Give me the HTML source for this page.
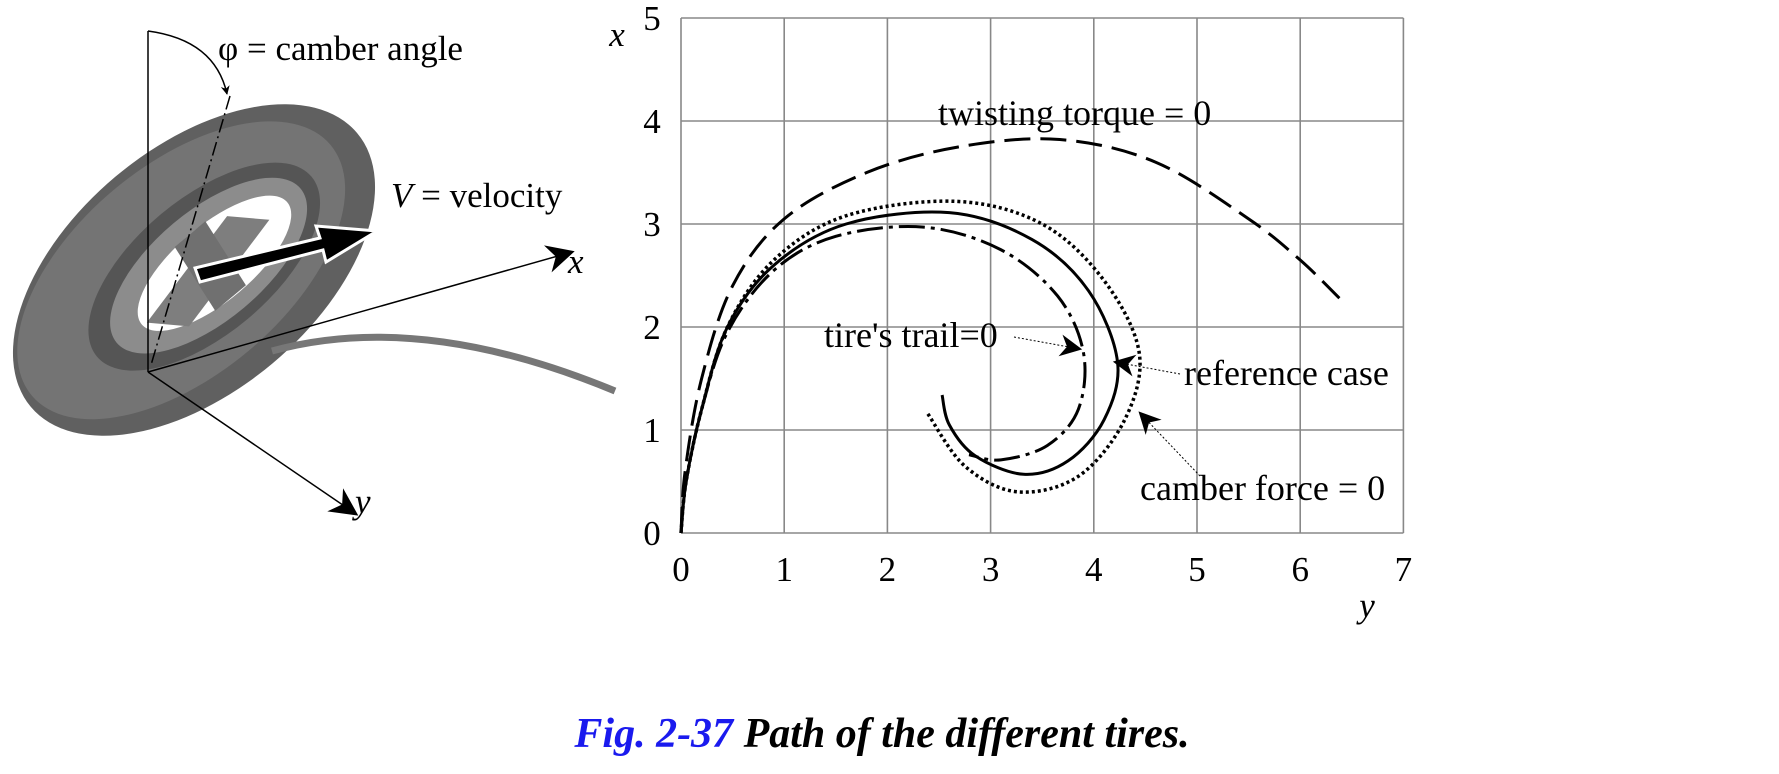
<!DOCTYPE html>
<html><head><meta charset="utf-8"><style>
html,body{margin:0;padding:0;background:#fff;}
svg{display:block;}
text{font-family:"Liberation Serif",serif;}
</style></head><body>
<svg id="s" width="1779" height="774" viewBox="0 0 1779 774" xmlns="http://www.w3.org/2000/svg">
<defs>
<marker id="ah" viewBox="0 0 10 10" refX="9" refY="5" markerWidth="9" markerHeight="9" orient="auto" markerUnits="userSpaceOnUse"><path d="M0,0 L10,5 L0,10 L3,5z" fill="#000"/></marker>
<marker id="ab" viewBox="0 0 10 10" refX="9" refY="5" markerWidth="34" markerHeight="28" orient="auto" markerUnits="userSpaceOnUse"><path d="M0,0 L10,5 L0,10 L3,5z" fill="#000"/></marker>
<marker id="am" viewBox="0 0 10 10" refX="9" refY="5" markerWidth="26" markerHeight="22" orient="auto" markerUnits="userSpaceOnUse"><path d="M0,0 L10,5 L0,10 L3,5z" fill="#000"/></marker>
</defs>
<!-- tire -->
<g transform="translate(194,270) rotate(-40)">
<ellipse cx="0" cy="0" rx="213" ry="122" fill="#606060"/>
<ellipse cx="-10" cy="-8" rx="195" ry="105" fill="#747474"/>
<ellipse cx="10" cy="4" rx="140" ry="68" fill="#555"/>
<ellipse cx="14" cy="6" rx="120" ry="55" fill="#8c8c8c"/>
<ellipse cx="20" cy="8" rx="95" ry="38" fill="#fff"/>
<path d="M-70,10 L60,-20 L90,10 L-40,40z" fill="#7e7e7e"/>
<path d="M0,-30 L40,-30 L30,45 L-10,45z" fill="#707070"/>
</g>
<path d="M272,351 Q420,310 615,391" stroke="#777" stroke-width="7" fill="none"/>
<!-- axes -->
<line x1="148" y1="31" x2="148" y2="372" stroke="#000" stroke-width="1.5"/>
<line x1="148" y1="372" x2="572" y2="252" stroke="#000" stroke-width="1.5" marker-end="url(#ab)"/>
<line x1="148" y1="372" x2="356" y2="514" stroke="#000" stroke-width="1.5" marker-end="url(#ab)"/>
<line x1="230" y1="96" x2="151" y2="365" stroke="#000" stroke-width="1.5" stroke-dasharray="14,4,2,4"/>
<path d="M148,31 Q215,40 227,94" stroke="#000" stroke-width="1.5" fill="none" marker-end="url(#ah)"/>
<path d="M195,268 L320,238 L316,226 L377,231 L326,262 L323,250 L200,282z" fill="#000" stroke="#fff" stroke-width="3"/>
<text x="218" y="60" font-size="35">φ = camber angle</text>
<text x="391" y="207" font-size="35"><tspan font-style="italic">V</tspan> = velocity</text>
<text x="568" y="273" font-size="35" font-style="italic">x</text>
<text x="355" y="513" font-size="35" font-style="italic">y</text>
<!-- plot grid -->
<g id="grid" stroke="#888" stroke-width="1.6"></g>
<g id="curves" fill="none" stroke="#000"></g>
<g font-size="35" text-anchor="middle" id="ticks"></g>
<text x="617" y="46" font-size="35" font-style="italic" text-anchor="middle">x</text>
<text x="1367" y="617" font-size="35" font-style="italic" text-anchor="middle">y</text>
<text x="938" y="125" font-size="36">twisting torque = 0</text>
<text x="824" y="347" font-size="36">tire's trail=0</text>
<text x="1184" y="385" font-size="36">reference case</text>
<text x="1140" y="500" font-size="36">camber force = 0</text>
<g stroke="#000" stroke-width="1" stroke-dasharray="2,2" fill="none">
<line x1="1014" y1="337" x2="1080" y2="349" marker-end="url(#am)"/>
<line x1="1180" y1="374" x2="1115" y2="362" marker-end="url(#am)"/>
<line x1="1200" y1="476" x2="1140" y2="413" marker-end="url(#am)"/>
</g>
<text x="882" y="747" font-size="42" font-weight="bold" font-style="italic" text-anchor="middle"><tspan fill="#1a1aee">Fig. 2-37</tspan> Path of the different tires.</text>
</svg>
<script>
var NS="http://www.w3.org/2000/svg";
function X(y){return 681+103.2*y;} function Y(x){return 533-103*x;}
var g=document.getElementById('grid');
function ln(p,x1,y1,x2,y2){var l=document.createElementNS(NS,'line');l.setAttribute('x1',x1);l.setAttribute('y1',y1);l.setAttribute('x2',x2);l.setAttribute('y2',y2);p.appendChild(l);}
for(var i=0;i<=7;i++)ln(g,X(i),Y(0),X(i),Y(5));
for(var j=0;j<=5;j++)ln(g,X(0),Y(j),X(7),Y(j));
var t=document.getElementById('ticks');
function tx(x,y,s){var e=document.createElementNS(NS,'text');e.setAttribute('x',x);e.setAttribute('y',y);e.textContent=s;t.appendChild(e);}
for(var i=0;i<=7;i++)tx(X(i),581,i);
for(var j=0;j<=5;j++)tx(652,Y(j)+12,j);
function path(pts,dash,w){
 var P=pts.map(function(p){return [X(p[0]),Y(p[1])];});
 var d="M"+P[0][0]+","+P[0][1];
 for(var i=0;i<P.length-1;i++){
  var p0=P[Math.max(i-1,0)],p1=P[i],p2=P[i+1],p3=P[Math.min(i+2,P.length-1)];
  d+=" C"+(p1[0]+(p2[0]-p0[0])/6)+","+(p1[1]+(p2[1]-p0[1])/6)+" "+(p2[0]-(p3[0]-p1[0])/6)+","+(p2[1]-(p3[1]-p1[1])/6)+" "+p2[0]+","+p2[1];
 }
 var e=document.createElementNS(NS,'path');e.setAttribute('d',d);e.setAttribute('stroke-width',w);
 if(dash)e.setAttribute('stroke-dasharray',dash);
 document.getElementById('curves').appendChild(e);
}
path([[0,0],[0.05,0.5],[0.2,1.2],[0.45,2.0],[0.9,2.6],[1.6,3.0],[2.6,3.11],[3.4,2.85],[3.95,2.35],[4.23,1.66],[4.1,1.1],[3.75,0.7],[3.32,0.57],[2.85,0.75],[2.6,1.05],[2.53,1.34]],null,3);
path([[0,0],[0.05,0.5],[0.2,1.2],[0.45,2.0],[0.9,2.65],[1.6,3.08],[2.66,3.22],[3.5,3.0],[4.1,2.45],[4.44,1.75],[4.3,1.1],[3.85,0.55],[3.26,0.40],[2.75,0.65],[2.39,1.16]],"3,3",3.5);
path([[0,0],[0.05,0.5],[0.2,1.2],[0.45,1.95],[0.9,2.55],[1.5,2.88],[2.35,2.97],[3.1,2.75],[3.65,2.3],[3.9,1.75],[3.85,1.2],[3.55,0.85],[3.1,0.71],[2.79,0.76]],"26,6,4,6",3);
path([[0,0],[0.04,0.6],[0.2,1.5],[0.5,2.4],[1.0,3.05],[1.8,3.5],[2.7,3.75],[3.67,3.82],[4.6,3.6],[5.5,3.05],[6.0,2.65],[6.38,2.28]],"26,10",3);
</script>
</body></html>
